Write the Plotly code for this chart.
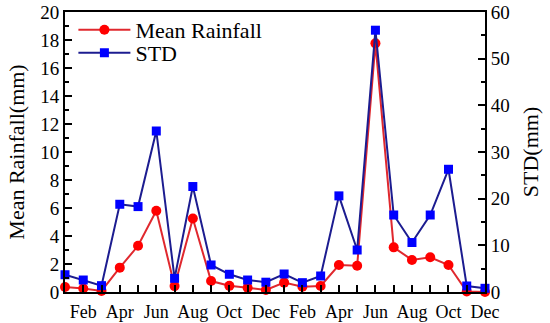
import plotly.graph_objects as go

months = ["Jan", "Feb", "Mar", "Apr", "May", "Jun", "Jul", "Aug", "Sep", "Oct", "Nov", "Dec"] * 2
mean_rainfall = [0.36, 0.25, 0.08, 1.74, 3.3, 5.8, 0.42, 5.25, 0.78, 0.44, 0.3, 0.14,
                 0.67, 0.38, 0.43, 1.93, 1.88, 17.76, 3.19, 2.29, 2.48, 1.93, 0.03, 0.0]
std = [3.7, 2.57, 1.36, 18.8, 18.3, 34.5, 2.93, 22.6, 5.79, 3.8, 2.57, 2.1,
       3.86, 2.0, 3.43, 20.6, 9.0, 56.1, 16.5, 10.6, 16.5, 26.3, 1.29, 0.79]

x = list(range(1, len(months) + 1))
tick_text = [m if i % 2 == 1 else "" for i, m in enumerate(months)]

font = "Liberation Serif, Times New Roman, serif"

fig = go.Figure()
fig.add_trace(go.Scatter(
    x=x, y=mean_rainfall, name="Mean Rainfall", mode="lines+markers",
    line=dict(color="#e0282e", width=2),
    marker=dict(symbol="circle", size=10, color="#ff0000"),
    yaxis="y", cliponaxis=False, legend="legend",
))
fig.add_trace(go.Scatter(
    x=x, y=std, name="STD", mode="lines+markers",
    line=dict(color="#1c1c90", width=2),
    marker=dict(symbol="square", size=9, color="#0000ff"),
    yaxis="y2", cliponaxis=False, legend="legend2",
))

leg_common = dict(xanchor="left", yanchor="middle", bgcolor="rgba(0,0,0,0)",
                  font=dict(size=22, family=font), itemwidth=52)

fig.update_layout(
    width=550, height=323,
    margin=dict(l=65, r=65, t=12, b=31, autoexpand=False),
    paper_bgcolor="white", plot_bgcolor="white",
    font=dict(family=font, size=18, color="black"),
    showlegend=True,
    legend=dict(x=0.02, y=0.936, **leg_common),
    legend2=dict(x=0.02, y=0.854, **leg_common),
    xaxis=dict(range=[1, 24], tickvals=x, ticktext=tick_text, automargin=False,
               ticks="inside", ticklen=7, tickwidth=1.5, tickcolor="black",
               showline=True, linecolor="black", linewidth=2, mirror=True,
               showgrid=False, zeroline=False, tickfont=dict(size=18),
               ticklabelstandoff=2),
    yaxis=dict(range=[0, 20], dtick=2, ticks="inside", ticklen=7, tickwidth=1.5,
               tickcolor="black", showline=True, linecolor="black", linewidth=2,
               showgrid=False, zeroline=False, automargin=False,
               minor=dict(dtick=1, ticks="inside", ticklen=4, tickcolor="black"),
               title=dict(text="Mean Rainfall(mm)", font=dict(size=22), standoff=10),
               tickfont=dict(size=19)),
    yaxis2=dict(range=[0, 60], dtick=10, ticks="inside", ticklen=7, tickwidth=1.5,
                tickcolor="black", showline=True, linecolor="black", linewidth=2,
                overlaying="y", side="right", showgrid=False, zeroline=False,
                automargin=False,
                minor=dict(dtick=5, ticks="inside", ticklen=4, tickcolor="black"),
                title=dict(text="STD(mm)", font=dict(size=22), standoff=14),
                tickfont=dict(size=19)),
)

fig.write_html("out.html", config={"displayModeBar": False},
               post_script="document.body.style.margin='0';")
